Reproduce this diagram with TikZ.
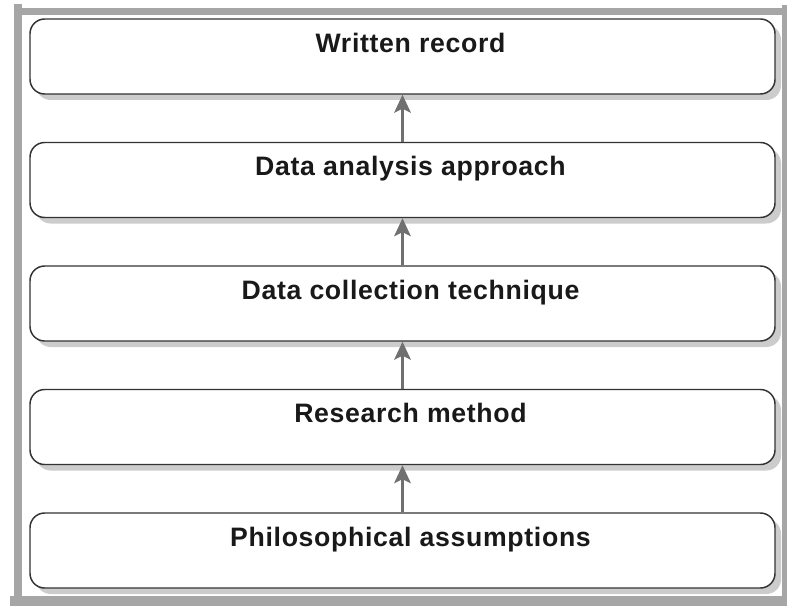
\documentclass[tikz,border=0pt]{standalone}
\usepackage{fontspec}
\usetikzlibrary{arrows.meta,shadows}
\newfontfamily\boxfont{Liberation Sans}[LetterSpace=2.5]
\definecolor{framegray}{HTML}{A6A6A6}
\definecolor{arrowgray}{HTML}{707070}

\begin{document}
\begin{tikzpicture}[x=0.75pt,y=-0.75pt,
    stage/.style={draw=black!80,line width=1.1pt,fill=white,rounded corners=11pt,
        minimum width=558.75pt,minimum height=56.25pt,inner sep=0pt,
        text height=14.3pt,text depth=21pt,text=black!90,
        font=\boxfont\bfseries\fontsize{20}{22}\selectfont,
        execute at begin node=\hspace{12pt},
        drop shadow={shadow xshift=4.5pt,shadow yshift=-4.5pt,fill=black!20,opacity=1}},
    up/.style={draw=arrowgray,line width=1.6pt,-{Stealth[length=13.5pt,width=12.5pt,inset=3pt]}}]
        \useasboundingbox (0,0) rectangle (787,606);
        % grey frame round the stages
        \draw[framegray,line width=5.5pt] (14,11.5) -- (787,11.5);
        \draw[framegray,line width=6pt] (18,4) -- (18,600);
        \draw[framegray,line width=7.5pt] (10,600.5) -- (787,600.5);
        \draw[framegray,line width=4pt] (784.5,5) -- (784.5,606);
        \foreach \y/\n/\t in {56.5/rec/Written record,180/ana/Data analysis approach,
                303.5/col/Data collection technique,427/met/Research method,
                550.5/phi/Philosophical assumptions} {
            \node[stage] (\n) at (402.5,\y) {\t};
        }
        \foreach \a/\b in {ana/rec,col/ana,met/col,phi/met} {
            \draw[up] (\a.north) -- (\b.south);
        }
    \end{tikzpicture}
\end{document}
